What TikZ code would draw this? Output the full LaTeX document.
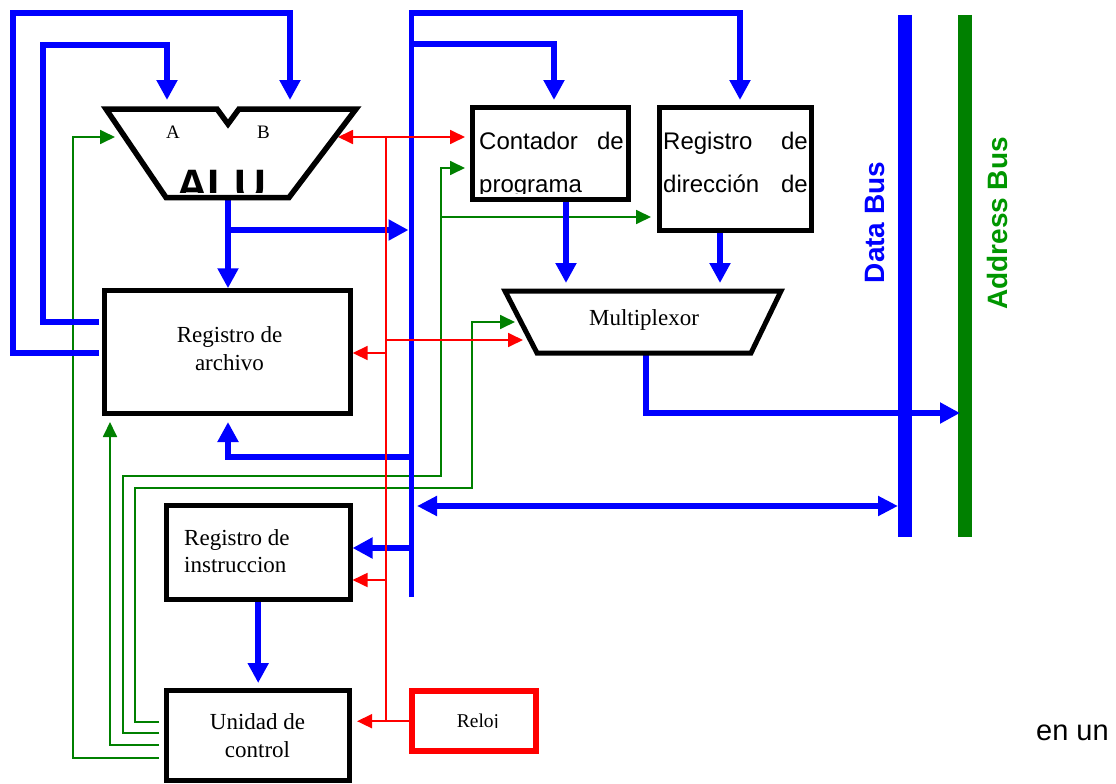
\documentclass[tikz,border=0pt]{standalone}
\usepackage{fontspec}
\setmainfont{Liberation Serif}
\newfontfamily\sansf{Liberation Sans}
\usetikzlibrary{arrows.meta,backgrounds}
\definecolor{busblue}{RGB}{0,0,255}
\definecolor{sigred}{RGB}{255,0,0}
\definecolor{siggreen}{RGB}{0,128,0}
\definecolor{abusgreen}{RGB}{0,128,0}
\definecolor{abustext}{RGB}{0,150,0}
\begin{document}
\begin{tikzpicture}[x=1pt,y=-1pt,
  blu/.style={draw=busblue,line width=5.5pt},
  bluarr/.style={blu,-{Triangle[width=20pt,length=20pt]}},
  bluarrtwo/.style={blu,{Triangle[width=19pt,length=20pt]}-{Triangle[width=19pt,length=20pt]}},
  grn/.style={draw=siggreen,line width=1.8pt},
  grnarr/.style={grn,-{Triangle[width=14pt,length=15pt]}},
  rd/.style={draw=sigred,line width=1.8pt},
  rdarr/.style={rd,-{Triangle[width=14pt,length=15pt]}},
  busline/.style={line width=14pt},
  blk/.style={draw=black,line width=5pt,fill=white,inner sep=0pt,rectangle},
  unitshape/.style={draw=black,line width=5.5pt,fill=white,line join=miter},
  lbl/.style={inner sep=0pt,font=\fontsize{23}{28}\selectfont},
  smalllbl/.style={inner sep=0pt,font=\fontsize{19}{23}\selectfont},
  slbl/.style={inner sep=0pt,font=\sansf\fontsize{24}{28}\selectfont},
  buslbl/.style={inner sep=0pt,rotate=90,font=\sansf\bfseries\fontsize{28}{32}\selectfont},
]
\useasboundingbox (0,0) rectangle (1116,784);

% ---------- boxes ----------
\node[blk,minimum width=156pt,minimum height=91.7pt] (pc) at (550.5,153.3) {};
\node[blk,minimum width=152.3pt,minimum height=122.7pt] (mar) at (735.3,168.8) {};
\node[blk,minimum width=246pt,minimum height=122.5pt] (rf) at (227.2,352) {};
\node[blk,minimum width=183.7pt,minimum height=93.4pt] (ir) at (258.2,552.5) {};
\node[blk,minimum width=182.7pt,minimum height=89.7pt] (cu) at (258.2,735.2) {};
\node[blk,draw=sigred,line width=6pt,minimum width=123.5pt,minimum height=60pt] (rl) at (474.2,721.2) {};

% ---------- ALU and multiplexor shapes ----------
\draw[unitshape] (106,109) -- (217,109) -- (228,124) -- (239,109) -- (356,109)
  -- (289,197.5) -- (166,197.5) -- cycle;
\draw[unitshape,line width=5pt] (505,291) -- (781,291) -- (751,353) -- (537,353) -- cycle;

% ---------- named points ----------
\coordinate (aluA) at (167,100);
\coordinate (aluB) at (290,100);
\coordinate (aluL) at (115,137);
\coordinate (aluR) at (338,137);
\coordinate (aluout) at (228,197);
\coordinate (mbtop) at (411.5,13);
\coordinate (mbbot) at (411.5,597);
\coordinate (mbL) at (408.5,13);
\coordinate (pcin) at (554,100);
\coordinate (marin) at (740,100);
\coordinate (rfbot) at (228,422);
\coordinate (rfbotL) at (110,422);
\coordinate (muxLa) at (515,322);
\coordinate (muxLb) at (523,340);
\coordinate (muxTa) at (566,283);
\coordinate (muxTb) at (720,283);
\coordinate (muxout) at (646,353);
\coordinate (abL) at (960,413);
\coordinate (bidiL) at (417,506);
\coordinate (bidiR) at (898,506);
\coordinate (dbtop) at (905,15);
\coordinate (dbbot) at (905,537);
\coordinate (abtop) at (965,15);
\coordinate (abbot) at (965,537);
\coordinate (pcLa) at (465,137);
\coordinate (pcLb) at (465,168);
\coordinate (marL) at (651,217);
\coordinate (cuL) at (159,0);
\coordinate (rfL) at (99,0);
\coordinate (redtop) at (386,137);
\coordinate (redbot) at (386,721.2);

\begin{pgfonlayer}{background}
% buses
\draw[busline,draw=busblue] (dbtop) -- (dbbot);
\draw[busline,draw=abusgreen] (abtop) -- (abbot);
% green control lines
\draw[grnarr] (cuL |- 0,722) -| (135,488) -| (472,322) -- (muxLa);
\draw[grnarr] (cuL |- 0,733) -| (123,476) -| (441,168) -- (pcLb);
\draw[grnarr] (441,217) -- (marL);
\draw[grnarr] (cuL |- 0,745) -| (rfbotL);
\draw[grnarr] (cuL |- 0,758) -| (73,137) -- (aluL);
% blue data paths
\draw[bluarr] (rfL |- 0,353) -| (13,13) -| (aluB);
\draw[bluarr] (rfL |- 0,322) -| (43,45) -| (aluA);
\draw[bluarr] (aluout) -- (aluout |- rf.north);
\draw[bluarr] (aluout |- 0,230) -- (mbL |- 0,230);
\draw[bluarr] (mbbot) -- (mbtop) -| (marin);
\draw[bluarr] (mbtop |- 0,44) -| (pcin);
\draw[bluarr] (mbtop |- 0,457) -| (rfbot);
\draw[bluarr] (mbtop |- 0,548) -- (ir.east |- 0,548);
\draw[bluarr] (ir.south) -- (ir.south |- 0,683);
\draw[bluarr] (pc.south -| muxTa) -- (muxTa);
\draw[bluarr] (mar.south -| muxTb) -- (muxTb);
\draw[bluarr] (muxout) |- (abL);
\draw[bluarrtwo] (bidiL) -- (bidiR);
% red clock lines
\draw[rd] (rl.west) -- (redbot) -- (redtop);
\draw[rdarr,shorten >=5pt] (redbot) -- (cu.east |- redbot);
\draw[rdarr] (redtop) -- (aluR);
\draw[rdarr] (redtop) -- (pcLa);
\draw[rdarr] (386,340) -- (muxLb);
\draw[rdarr] (386,353) -- (rf.east |- 0,353);
\draw[rdarr] (386,580) -- (ir.east |- 0,580);
\end{pgfonlayer}

% ---------- texts ----------
\begin{scope}
\clip (150,150) rectangle (300,192);
\node[inner sep=0pt,anchor=base west,font=\sansf\bfseries\fontsize{44}{50}\selectfont] (talu) at (176,200) {ALU};
\end{scope}
\node[smalllbl,anchor=base] (tA) at (173,138) {A};
\node[smalllbl,anchor=base] (tB) at (263.5,138) {B};

\begin{scope}
\clip (475,110) rectangle (626,193.5);
\node[slbl,anchor=base west] (tpca) at (479,149) {Contador};
\node[slbl,anchor=base east] (tpcb) at (624,149) {de};
\node[slbl,anchor=base west] (tpcc) at (479,192.5) {programa};
\end{scope}

\node[slbl,anchor=base west] (tmara) at (663,149) {Registro};
\node[slbl,anchor=base east] (tmarb) at (808,149) {de};
\node[slbl,anchor=base west] (tmarc) at (663,192) {dirección};
\node[slbl,anchor=base east] (tmard) at (808,192) {de};

\node[lbl,anchor=base] (tmux) at (644,325) {Multiplexor};
\node[lbl,anchor=base] (trfa) at (229.5,342) {Registro de};
\node[lbl,anchor=base] (trfb) at (229.5,370) {archivo};
\node[lbl,anchor=base west] (tira) at (184,545) {Registro de};
\node[lbl,anchor=base west] (tirb) at (184,572) {instruccion};
\node[lbl,anchor=base] (tcua) at (257.5,729) {Unidad de};
\node[lbl,anchor=base] (tcub) at (257.5,757) {control};

\begin{scope}
\clip (416,696) rectangle (532,727.6);
\node[inner sep=0pt,anchor=base,font=\fontsize{19.5}{23}\selectfont] (trl) at (478,727.5) {Reloj};
\end{scope}

\node[buslbl,text=busblue] (tdb) at (875,222.5) {Data Bus};
\node[buslbl,text=abustext] (tab) at (997.5,223.5) {Address Bus};

\node[inner sep=0pt,anchor=base west,font=\sansf\fontsize{29}{34}\selectfont] (tenun) at (1036,740) {en un};
\end{tikzpicture}
\end{document}
